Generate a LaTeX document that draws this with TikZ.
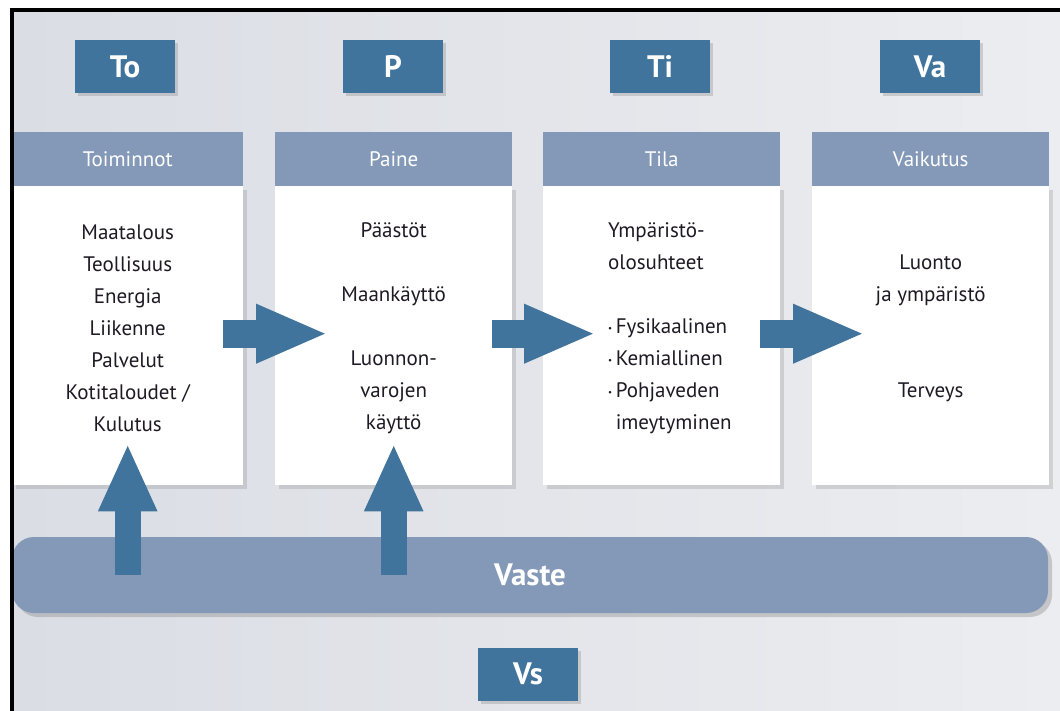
\documentclass[tikz,border=0pt]{standalone}
\usepackage{fontspec}
\setmainfont{PT Sans}
\usetikzlibrary{arrows.meta,shadows}
\definecolor{tagblue}{RGB}{65,116,156}
\definecolor{headblue}{RGB}{131,153,183}
\definecolor{bgleft}{RGB}{218,221,228}
\definecolor{bgright}{RGB}{236,237,240}
\definecolor{txt}{RGB}{30,26,36}

\begin{document}
\begin{tikzpicture}[x=1pt,y=-1pt,
    tag/.style={fill=tagblue, text=white, font=\bfseries\fontsize{31}{34}\selectfont, minimum width=100pt, minimum height=53pt, inner sep=0pt, drop shadow={opacity=0.3,shadow xshift=3pt,shadow yshift=-3pt}},
    head/.style={fill=headblue, text=white, font=\fontsize{21}{24}\selectfont, minimum height=54pt, inner sep=0pt, anchor=north west},
    body/.style={fill=white, minimum height=299pt, inner sep=0pt, anchor=north west, drop shadow={opacity=0.25,shadow xshift=4pt,shadow yshift=-4pt}},
    words/.style={text=txt, font=\fontsize{21}{32}\selectfont, inner sep=0pt},
    bigarrow/.style={draw=tagblue, line width=28pt, -{Triangle[length=72pt,width=54pt]}},
    uparrow/.style={draw=tagblue, line width=26pt, -{Triangle[length=68pt,width=54pt]}}]
    \useasboundingbox (0,0) rectangle (1060,711);
    \shade[left color=bgleft, right color=bgright] (11.5,10.5) rectangle (1060,711);

    \node[tag] (to) at (125,66.5) {To};
    \node[tag] (p) at (393,66.5) {P};
    \node[tag] (ti) at (660,66.5) {Ti};
    \node[tag] (va) at (930,66.5) {Va};

    \node[body, minimum width=231pt] (b1) at (12,186) {};
    \node[body, minimum width=237pt] (b2) at (275,186) {};
    \node[body, minimum width=237pt] (b3) at (543,186) {};
    \node[body, minimum width=237pt] (b4) at (812,186) {};
    \node[head, minimum width=231pt] (h1) at (12,132) {Toiminnot};
    \node[head, minimum width=237pt] (h2) at (275,132) {Paine};
    \node[head, minimum width=237pt] (h3) at (543,132) {Tila};
    \node[head, minimum width=237pt] (h4) at (812,132) {Vaikutus};

    \node[words, align=center] (t1) at ([yshift=7pt]b1.center) {Maatalous\\Teollisuus\\Energia\\Liikenne\\Palvelut\\Kotitaloudet /\\Kulutus};
    \node[words, align=center] (t2) at ([yshift=7pt]b2.center) {Päästöt\\[32pt]Maankäyttö\\[32pt]Luonnon-\\varojen\\käyttö};
    \node[words, align=left, anchor=west] (t3) at ([xshift=65pt,yshift=7pt]b3.west) {Ympäristö-\\olosuhteet\\[32pt]\raisebox{0.25ex}{\small•}\,Fysikaalinen\\\raisebox{0.25ex}{\small•}\,Kemiallinen\\\raisebox{0.25ex}{\small•}\,Pohjaveden\\\hphantom{{\small•}\,}imeytyminen};
    \node[words, align=center] (t4) at ([yshift=7pt]b4.center) {Luonto\\ja ympäristö\\[64pt]Terveys};

    \draw[bigarrow] ([xshift=-20pt,yshift=2pt]b1.east) -- ([xshift=53pt,yshift=2pt]b2.west);
    \draw[bigarrow] ([xshift=-20pt,yshift=2pt]b2.east) -- ([xshift=53pt,yshift=2pt]b3.west);
    \draw[bigarrow] ([xshift=-20pt,yshift=2pt]b3.east) -- ([xshift=53pt,yshift=2pt]b4.west);

    \node[fill=headblue, text=white, font=\bfseries\fontsize{31}{34}\selectfont, rounded corners=22pt, minimum width=1036pt, minimum height=76pt, drop shadow={opacity=0.35,shadow xshift=4pt,shadow yshift=-4pt}] (vaste) at (530,575) {Vaste};
    \draw[uparrow] (b1.south |- vaste.center) -- ([yshift=42pt]b1.south);
    \draw[uparrow] (b2.south |- vaste.center) -- ([yshift=42pt]b2.south);

    \node[tag] (vs) at (528,674) {Vs};

    \draw[line width=4pt] (1060,10.5) -- (11.5,10.5) -- (11.5,711);
\end{tikzpicture}
\end{document}
